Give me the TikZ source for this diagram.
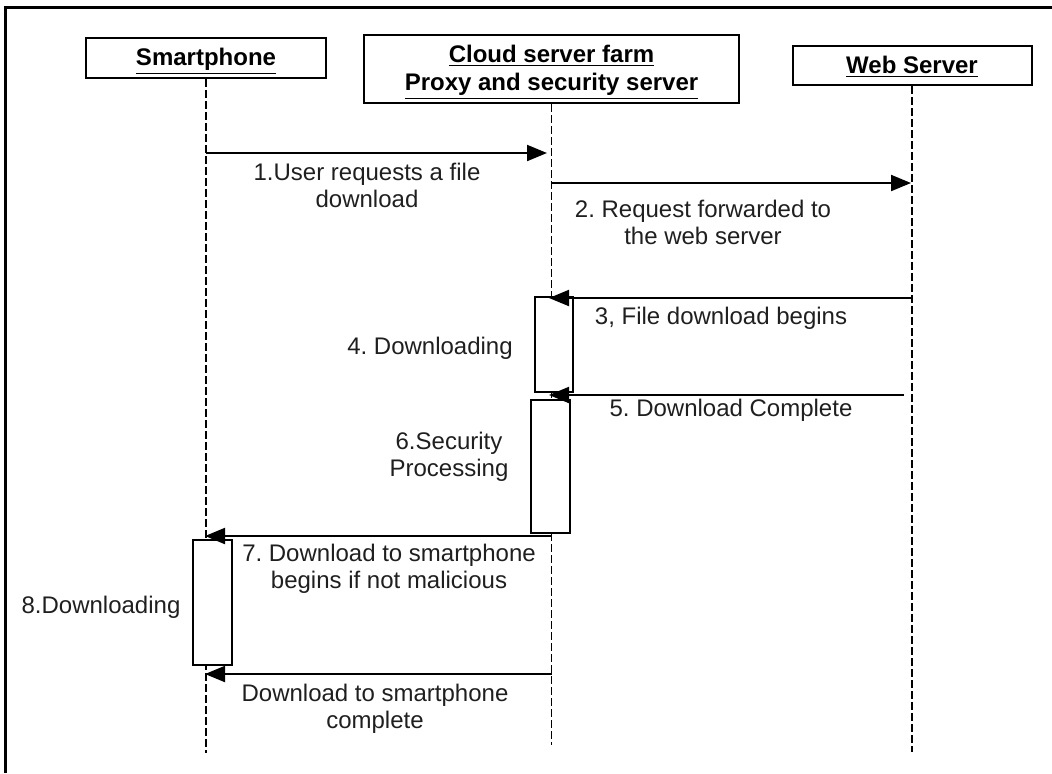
\documentclass[tikz,border=0pt]{standalone}
\usepackage{fontspec}
\setmainfont{Liberation Sans}
\usetikzlibrary{arrows.meta}
\frenchspacing
% underlined header line whose underline does not take part in centring
\newcommand\hdrline[1]{\raisebox{0pt}[8.6pt][1pt]{\underline{#1}}}
\begin{document}
\begin{tikzpicture}[x=0.5pt,y=-0.5pt,
  actor/.style={draw, line width=1pt, fill=white, inner sep=0pt, align=center,
    font=\bfseries\fontsize{12}{14}\selectfont},
  lifeline/.style={line width=0.8pt, dash pattern=on 4pt off 1.5pt},
  msg/.style={line width=1pt, -{Triangle[length=10pt,width=8pt]}},
  activation/.style={draw, line width=1pt, fill=white, inner sep=0pt},
  lbl/.style={font=\fontsize{12}{13.5}\selectfont, align=center, inner sep=0pt, text=black!88}]
\useasboundingbox (0,0) rectangle (1052,773);

% outer frame
\draw[line width=1.5pt] (5,773) -- (5,7) -- (1052,7);

% lifeline ends
\coordinate (spEnd) at (206,753);
\coordinate (clEnd) at (551.5,745);
\coordinate (wsEnd) at (912,752);

% participants
\node[actor, minimum width=120pt, minimum height=20pt] (sp) at (206,58)
  {\hdrline{Smartphone}};
\node[actor, minimum width=187.5pt, minimum height=34pt] (cl) at (551.5,69)
  {\hdrline{Cloud server farm}\\\hdrline{Proxy and security server}};
\node[actor, minimum width=119.5pt, minimum height=19.5pt] (ws) at (912,65.5)
  {\hdrline{Web Server}};

% lifelines
\draw[lifeline] (sp.south) -- (spEnd);
\draw[lifeline] (cl.south) -- (clEnd);
\draw[lifeline] (ws.south) -- (wsEnd);

% activation bars
\node[activation, minimum width=19pt, minimum height=47.5pt] (act1) at (554,344.5) {};
\node[activation, minimum width=19.5pt, minimum height=66.5pt] (act2) at (550.5,466.5) {};
\node[activation, minimum width=19.5pt, minimum height=62.5pt] (act3) at (212.5,602.5) {};

% message end points
\coordinate (m1s) at (206,153);   \coordinate (m1e) at (547,153);
\coordinate (m2s) at (551.5,183); \coordinate (m2e) at (911,183);
\coordinate (m3s) at (912,298);   \coordinate (m3e) at (549,298);
\coordinate (m5s) at (904,395);   \coordinate (m5e) at (549,395);
\coordinate (m7s) at (551.5,536); \coordinate (m7e) at (205,536);
\coordinate (m9s) at (551.5,674); \coordinate (m9e) at (205,674);

% messages
\draw[msg] (m1s) -- (m1e);
\draw[msg] (m2s) -- (m2e);
\draw[msg] (m3s) -- (m3e);
\draw[msg] (m5s) -- (m5e);
\draw[msg] (m7s) -- (m7e);
\draw[msg] (m9s) -- (m9e);

% labels
\node[lbl] (l1) at (367,185) {1.User requests a file\\download};
\node[lbl] (l2) at (703,222) {2. Request forwarded to\\the web server};
\node[lbl] (l3) at (721,318) {3, File download begins};
\node[lbl] (l4) at (430,348) {4. Downloading};
\node[lbl] (l5) at (731,410) {5. Download Complete};
\node[lbl] (l6) at (449,457) {6.Security\\Processing};
\node[lbl] (l7) at (389,569) {7. Download to smartphone\\begins if not malicious};
\node[lbl] (l8) at (101,607) {8.Downloading};
\node[lbl] (l9) at (375,709) {Download to smartphone\\complete};
\end{tikzpicture}
\end{document}
